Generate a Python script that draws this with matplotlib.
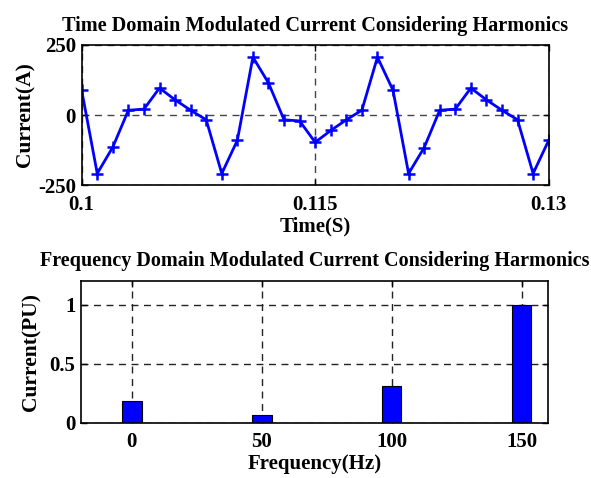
import matplotlib
matplotlib.use("Agg")
import matplotlib.pyplot as plt
import numpy as np

# Time-domain data
time_s = [0.100, 0.101, 0.102, 0.103, 0.104, 0.105, 0.106, 0.107, 0.108, 0.109,
          0.110, 0.111, 0.112, 0.113, 0.114, 0.115, 0.116, 0.117, 0.118, 0.119,
          0.120, 0.121, 0.122, 0.123, 0.124, 0.125, 0.126, 0.127, 0.128, 0.129, 0.130]
current_a = [88, -208, -114, 17, 21, 96, 54, 17, -17, -208,
             -90, 206, 114, -17, -21, -97, -55, -17, 17, 206,
             88, -208, -116, 17, 21, 96, 54, 17, -17, -208, -90]

# Frequency-domain data
freq_hz = [0, 50, 100, 150]
current_pu = [0.18, 0.062, 0.311, 1.0]

time_ticks = [0.1, 0.115, 0.13]
time_ticklabels = ["0.1", "0.115", "0.13"]
cur_ticks = [-250, 0, 250]
freq_ticks = [0, 50, 100, 150]
pu_ticks = [0, 0.5, 1]
pu_ticklabels = ["0", "0.5", "1"]

plt.rcParams['font.family'] = ['Liberation Serif', 'DejaVu Serif']
plt.rcParams['font.weight'] = 'bold'
plt.rcParams['axes.unicode_minus'] = False

fig = plt.figure(figsize=(5.91, 4.78), dpi=100)

ax1 = fig.add_axes([0.1382, 0.6123, 0.7902, 0.2941])
ax1.plot(time_s, current_a, color='#0000ff', lw=2, marker='+', ms=9, mew=1.8)
ax1.set_xlim(0.1, 0.13)
ax1.set_ylim(-250, 250)
ax1.set_xticks(time_ticks)
ax1.set_xticklabels(time_ticklabels)
ax1.set_yticks(cur_ticks)
ax1.grid(True, ls=(0, (5, 4)), color='#444444', lw=1)
ax1.set_axisbelow(True)
ax1.set_title("Time Domain Modulated Current Considering Harmonics",
              fontsize=14.6, fontweight='bold', pad=10)
ax1.set_xlabel("Time(S)", fontsize=15, fontweight='bold', labelpad=1)
ax1.set_ylabel("Current(A)", fontsize=15.5, fontweight='bold', labelpad=2)

ax2 = fig.add_axes([0.137, 0.1157, 0.7908, 0.2964])
ax2.bar(freq_hz, current_pu, width=7.5, color='#0000ff', edgecolor='black', lw=0.8, zorder=3)
ax2.set_xlim(-19.6, 160.3)
ax2.set_ylim(0, 1.2)
ax2.set_xticks(freq_ticks)
ax2.set_yticks(pu_ticks)
ax2.set_yticklabels(pu_ticklabels)
ax2.grid(True, ls=(0, (5, 4)), color='#222222', lw=1)
ax2.set_axisbelow(True)
ax2.set_title("Frequency Domain Modulated Current Considering Harmonics",
              fontsize=14.5, fontweight='bold', pad=11)
ax2.set_xlabel("Frequency(Hz)", fontsize=15, fontweight='bold', labelpad=1)
ax2.set_ylabel("Current(PU)", fontsize=15.5, fontweight='bold', labelpad=6)

for ax in (ax1, ax2):
    ax.tick_params(direction='in', labelsize=15, length=4, width=1, pad=7, top=True, right=True)
    ax.tick_params(axis='y', pad=4)
    for lab in ax.get_xticklabels() + ax.get_yticklabels():
        lab.set_fontweight('bold')
    for s in ax.spines.values():
        s.set_linewidth(1.2)
        s.set_zorder(5)

fig.savefig("out.png", dpi=100)
